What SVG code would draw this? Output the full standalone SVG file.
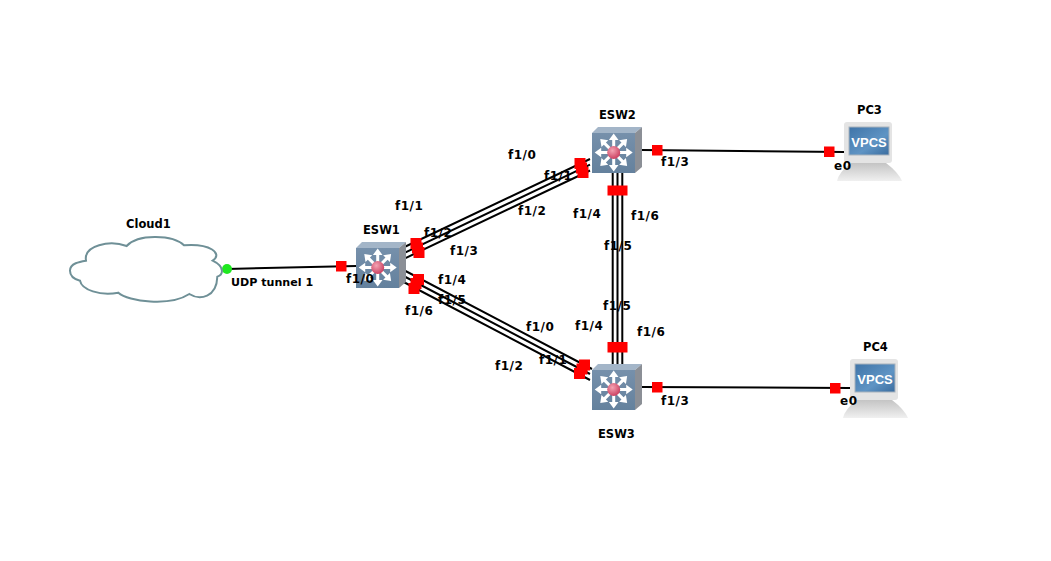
<svg xmlns="http://www.w3.org/2000/svg" xmlns:xlink="http://www.w3.org/1999/xlink" width="1051" height="561" viewBox="0 0 1051 561">
<style>
text{font-family:"DejaVu Sans","Liberation Sans",sans-serif;font-weight:bold;fill:#000}
.t{font-size:11.500px}
.u{font-size:11.100px}
.p{font-size:12px;letter-spacing:.5px}
.l{stroke:#000;stroke-width:2;fill:none}
.m{fill:#f00}
.c{fill:#fff;stroke:#6f9097;stroke-width:6;stroke-linecap:round}
</style>
<defs>
<linearGradient id="fr" x1="0" y1="0" x2="0" y2="1"><stop offset="0" stop-color="#7690ab"/><stop offset="1" stop-color="#64819d"/></linearGradient>
<radialGradient id="ball" cx=".4" cy=".35" r=".7"><stop offset="0" stop-color="#f4a3b3"/><stop offset="1" stop-color="#c93a5c"/></radialGradient>
<linearGradient id="scr" x1="0" y1="0" x2="1" y2="1"><stop offset="0" stop-color="#3f74a8"/><stop offset=".6" stop-color="#5f94c4"/><stop offset="1" stop-color="#3a6c9e"/></linearGradient>
<linearGradient id="base" x1="0" y1="0" x2="0" y2="1"><stop offset="0" stop-color="#c4c4c4"/><stop offset="1" stop-color="#f0f0f0"/></linearGradient>
<path id="ar" d="M0 -1.500H12.500V-4.800L19 0L12.500 4.800V1.500H0Z" fill="#fff"/>
<g id="sw">
<path d="M0 6L6 0H50L43 6Z" fill="#a3b5c8"/>
<path d="M43 6L50 0V40L43 46Z" fill="#8b8f96"/>
<rect x="0" y="6" width="43" height="40" fill="url(#fr)"/>
<g transform="translate(21.700 25.500)">
<use xlink:href="#ar"/>
<use xlink:href="#ar" transform="rotate(45)"/>
<use xlink:href="#ar" transform="rotate(90)"/>
<use xlink:href="#ar" transform="rotate(135)"/>
<use xlink:href="#ar" transform="rotate(180)"/>
<use xlink:href="#ar" transform="rotate(225)"/>
<use xlink:href="#ar" transform="rotate(270)"/>
<use xlink:href="#ar" transform="rotate(315)"/>
<circle r="6.500" fill="url(#ball)"/>
</g>
</g>
<g id="pc">
<path d="M-7 59Q-5 50 7 41H42Q54 50 58 59Z" fill="url(#base)"/>
<rect x="0" y="0" width="48" height="41" rx="3" fill="#e4e4e4"/>
<rect x="5" y="5" width="40" height="28" fill="url(#scr)" stroke="#a8b2bc"/>
<text x="25" y="24.500" text-anchor="middle" style="font-family:'Liberation Sans',sans-serif;font-size:13px;fill:#fff">VPCS</text>
</g>
</defs>
<rect width="1051" height="561" fill="#fff"/>
<g id="connectors">
<path class="l" d="M227 269L356 266"/>
<path class="l" d="M396 251L590 159M396 256.900L590 164.700M396 262.600L590 170.500"/>
<path class="l" d="M396 266L592 369M396 272L590 374M396 278L590 380"/>
<path class="l" d="M612.700 170V366M617.500 170V366M622.300 170V366"/>
<path class="l" d="M642 150L844 152"/>
<path class="l" d="M642 387L850 388"/>
<circle cx="227" cy="269" r="5" fill="#1fe81f"/>
<rect class="m" x="336" y="261" width="10.500" height="10.500"/>
<rect class="m" x="410.500" y="238" width="11" height="11"/>
<rect class="m" x="412" y="242.500" width="11" height="11"/>
<rect class="m" x="413.500" y="247" width="11" height="11"/>
<rect class="m" x="413" y="274" width="11" height="11"/>
<rect class="m" x="410.500" y="278" width="11" height="11"/>
<rect class="m" x="408.500" y="283" width="11" height="11"/>
<rect class="m" x="574.500" y="158" width="11" height="11"/>
<rect class="m" x="576" y="162.500" width="11" height="11"/>
<rect class="m" x="577.500" y="167" width="11" height="11"/>
<rect class="m" x="579" y="359.500" width="11" height="11"/>
<rect class="m" x="576.500" y="363.500" width="11" height="11"/>
<rect class="m" x="574" y="368" width="11" height="11"/>
<rect class="m" x="607.500" y="185.500" width="20" height="10"/>
<rect class="m" x="607.500" y="342" width="20" height="10.500"/>
<rect class="m" x="652" y="145" width="10.500" height="10.500"/>
<rect class="m" x="824" y="146.500" width="10.500" height="10.500"/>
<rect class="m" x="652" y="382" width="10.500" height="10.500"/>
<rect class="m" x="830" y="383" width="10.500" height="10.500"/>
</g>
<g id="Cloud1">
<path class="c" transform="translate(60 210) scale(.3333)" d="M78 152C60 155 30 160 30 182C30 198 45 208 60 212C65 240 120 258 175 248C205 275 330 290 388 252C420 272 470 262 472 200C490 195 495 170 458 152C490 130 450 100 372 106C340 75 235 70 200 108C150 90 70 105 78 152Z"/>
<text class="t" x="126" y="228">Cloud1</text>
</g>
<g id="ESW1"><use xlink:href="#sw" x="356" y="242"/><text class="t" x="363" y="234">ESW1</text></g>
<g id="ESW2"><use xlink:href="#sw" x="592" y="127"/><text class="t" x="599" y="119">ESW2</text></g>
<g id="ESW3"><use xlink:href="#sw" x="592" y="364"/><text class="t" x="598" y="438">ESW3</text></g>
<g id="PC3"><use xlink:href="#pc" x="844" y="122"/><text class="t" x="857" y="114">PC3</text></g>
<g id="PC4"><use xlink:href="#pc" x="850" y="359"/><text class="t" x="863" y="351">PC4</text></g>
<g id="labels">
<text class="u" x="231" y="286">UDP tunnel 1</text>
<text class="p" x="346" y="283">f1/0</text>
<text class="p" x="395" y="210">f1/1</text>
<text class="p" x="424" y="237">f1/2</text>
<text class="p" x="450" y="255">f1/3</text>
<text class="p" x="438" y="284">f1/4</text>
<text class="p" x="438" y="304">f1/5</text>
<text class="p" x="405" y="315">f1/6</text>
<text class="p" x="508" y="159">f1/0</text>
<text class="p" x="544" y="180">f1/1</text>
<text class="p" x="518" y="215">f1/2</text>
<text class="p" x="661" y="166">f1/3</text>
<text class="p" x="573" y="218">f1/4</text>
<text class="p" x="604" y="250">f1/5</text>
<text class="p" x="631" y="220">f1/6</text>
<text class="p" x="526" y="331">f1/0</text>
<text class="p" x="539" y="364">f1/1</text>
<text class="p" x="495" y="370">f1/2</text>
<text class="p" x="661" y="405">f1/3</text>
<text class="p" x="575" y="330">f1/4</text>
<text class="p" x="603" y="310">f1/5</text>
<text class="p" x="637" y="336">f1/6</text>
<text class="p" x="834" y="170">e0</text>
<text class="p" x="840" y="405">e0</text>
</g>
</svg>
